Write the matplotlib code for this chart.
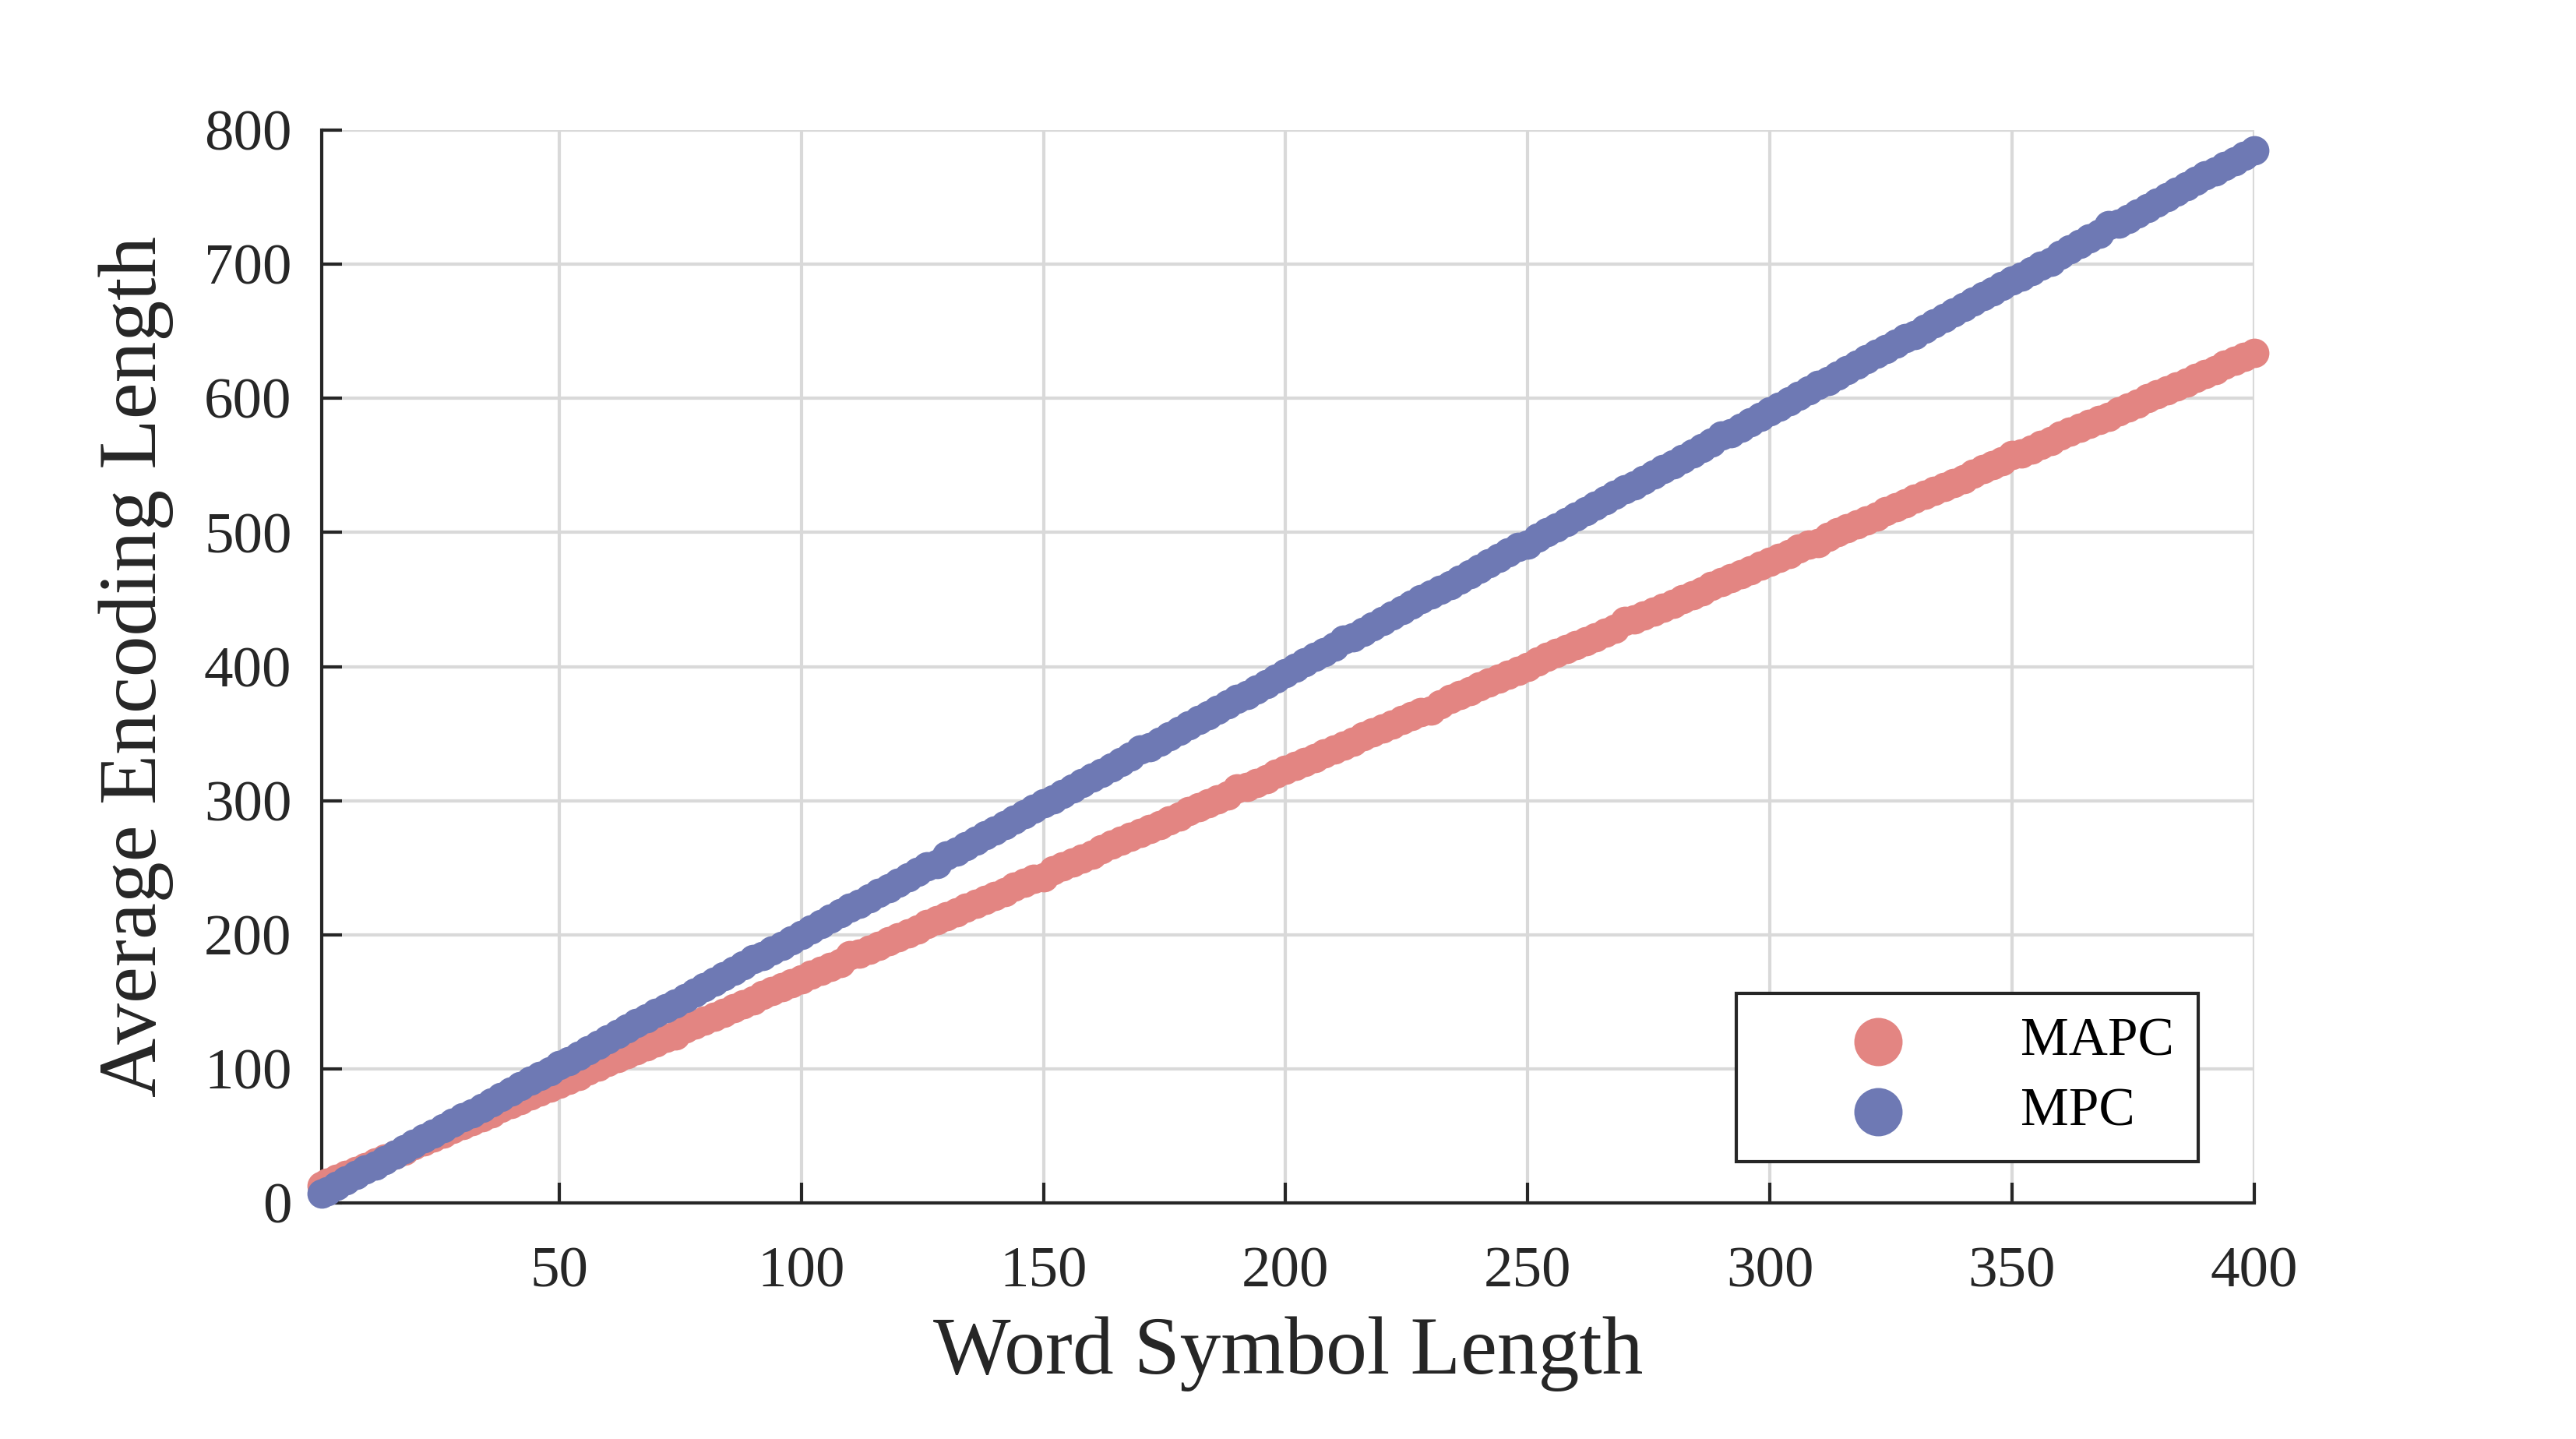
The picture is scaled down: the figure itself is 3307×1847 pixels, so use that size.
import numpy as np
import matplotlib
matplotlib.use("Agg")
import matplotlib.pyplot as plt

# Dane: długość słowa (1, 2, 4, ..., 400) i średnia długość kodowania
word_len = np.r_[1, np.arange(2, 401, 2)]

mapc = [13,
        15, 18, 21, 24, 27, 30, 33, 36, 39, 43,
        46, 49, 52, 55, 58, 61, 64, 67, 71, 74,
        77, 80, 83, 86, 89, 92, 95, 99, 102, 105,
        108, 111, 114, 117, 120, 123, 125, 130, 133, 136,
        139, 142, 145, 148, 151, 155, 158, 161, 164, 167,
        170, 173, 176, 179, 185, 186, 189, 192, 195, 198,
        201, 204, 208, 211, 214, 217, 220, 223, 226, 229,
        232, 236, 239, 242, 243, 248, 251, 254, 257, 260,
        264, 267, 270, 273, 276, 279, 282, 285, 288, 292,
        295, 298, 301, 304, 309, 310, 313, 316, 320, 323,
        326, 329, 332, 335, 338, 341, 344, 348, 351, 354,
        357, 360, 363, 366, 367, 372, 376, 379, 382, 385,
        388, 391, 394, 397, 400, 404, 407, 410, 413, 416,
        419, 422, 425, 428, 434, 435, 438, 441, 444, 447,
        450, 453, 456, 460, 463, 466, 469, 472, 475, 478,
        481, 484, 488, 491, 492, 497, 500, 503, 506, 509,
        512, 516, 519, 522, 525, 528, 531, 534, 537, 540,
        544, 547, 550, 553, 558, 559, 562, 565, 568, 572,
        575, 578, 581, 584, 586, 590, 593, 596, 600, 603,
        606, 609, 612, 615, 618, 621, 625, 628, 631, 634]

mpc = [7,
       9, 13, 17, 21, 25, 28, 32, 36, 40, 44,
       48, 52, 56, 60, 64, 67, 71, 75, 79, 83,
       87, 91, 95, 98, 103, 106, 110, 114, 118, 122,
       126, 130, 134, 138, 142, 145, 149, 153, 157, 161,
       165, 169, 173, 177, 182, 184, 188, 192, 196, 200,
       204, 208, 212, 216, 220, 223, 227, 231, 235, 239,
       243, 247, 251, 253, 259, 262, 266, 270, 274, 278,
       282, 286, 290, 294, 298, 301, 305, 309, 313, 317,
       321, 325, 329, 333, 338, 340, 344, 348, 352, 356,
       360, 364, 368, 372, 376, 379, 383, 387, 391, 395,
       399, 403, 407, 411, 415, 420, 422, 426, 430, 434,
       438, 442, 446, 450, 454, 457, 461, 465, 469, 473,
       477, 481, 485, 489, 491, 496, 500, 504, 508, 512,
       516, 520, 524, 528, 532, 535, 539, 543, 547, 551,
       555, 559, 563, 567, 572, 574, 578, 582, 586, 590,
       594, 598, 602, 606, 610, 613, 617, 621, 625, 629,
       633, 637, 641, 645, 647, 652, 656, 660, 664, 668,
       672, 676, 680, 684, 688, 691, 695, 699, 702, 707,
       711, 715, 719, 723, 729, 730, 734, 738, 742, 746,
       750, 754, 758, 762, 766, 769, 773, 777, 781, 785]

x_ticks = [50, 100, 150, 200, 250, 300, 350, 400]
y_ticks = [0, 100, 200, 300, 400, 500, 600, 700, 800]

plt.rcParams['font.family'] = ['Liberation Serif', 'DejaVu Serif']
dark = '#262626'

fig = plt.figure(figsize=(16.535, 9.235), dpi=200)
ax = fig.add_axes([0.125, 0.164, 0.75, 0.7456])

ax.scatter(word_len, mapc, s=185, color='#E38582', linewidths=0,
           label='MAPC', zorder=3, clip_on=False)
ax.scatter(word_len, mpc, s=185, color='#6E79B4', linewidths=0,
           label='MPC', zorder=4, clip_on=False)

ax.set_xlim(1, 400)
ax.set_ylim(0, 800)
ax.set_xticks(x_ticks)
ax.set_yticks(y_ticks)

# Styl osi jak w MATLAB (bez ramki)
for side in ['top', 'right']:
    ax.spines[side].set_visible(False)
for side in ['left', 'bottom']:
    ax.spines[side].set_linewidth(1.5)
    ax.spines[side].set_color(dark)
ax.tick_params(axis='both', direction='in', length=9.5, width=1.5,
               colors=dark, labelsize=27)
ax.tick_params(axis='x', pad=20)
ax.tick_params(axis='y', pad=14)

ax.grid(True, color='#D9D9D9', linewidth=1.5)
ax.set_axisbelow(True)

ax.set_xlabel('Word Symbol Length', fontsize=38, color=dark, labelpad=8)
ax.set_ylabel('Average Encoding Length', fontsize=38, color=dark, labelpad=14)

leg = ax.legend(loc='lower right', bbox_to_anchor=(0.971, 0.0385),
                fontsize=25, markerscale=1.64, fancybox=False, framealpha=1,
                edgecolor=dark, borderpad=0.45, handlelength=4.35,
                handletextpad=0.45, labelspacing=0.38, borderaxespad=0)
leg.get_frame().set_linewidth(1.5)

plt.savefig('out.png', dpi=200)
